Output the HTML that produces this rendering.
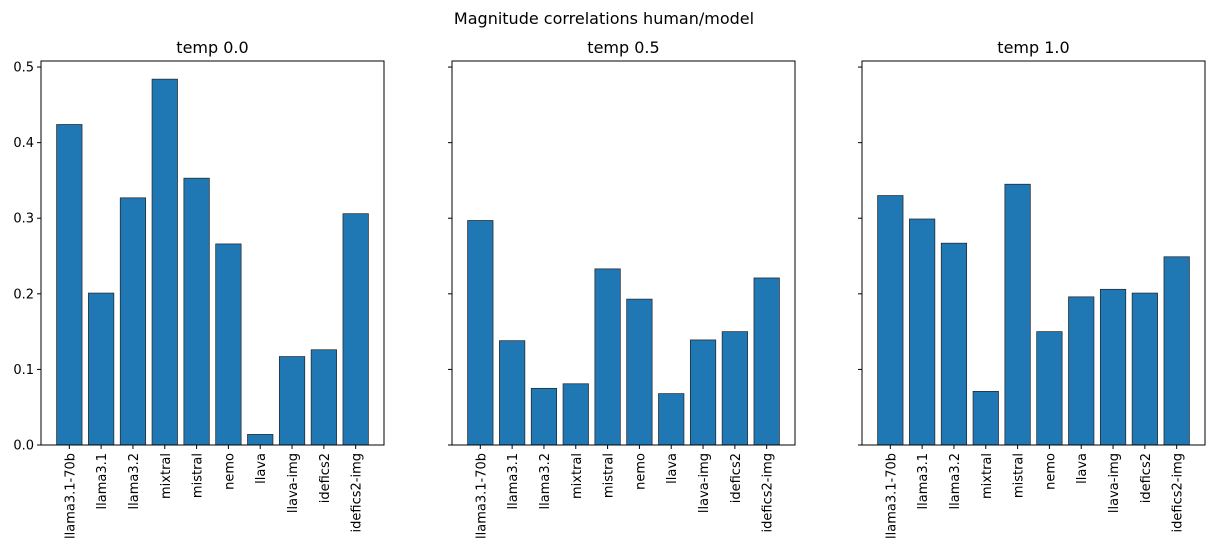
<!DOCTYPE html>
<html><head><meta charset="utf-8"><style>
body{margin:0;background:#fff;}
svg{display:block;font-family:"DejaVu Sans","Liberation Sans",sans-serif;}
</style></head><body>
<svg id="chart" width="1214" height="556">
<text x="604" y="24" font-size="16" text-anchor="middle">Magnitude correlations human/model</text>
</svg>
<script>
const categories=["llama3.1-70b","llama3.1","llama3.2","mixtral","mistral","nemo","llava","llava-img","idefics2","idefics2-img"];
const titles=["temp 0.0","temp 0.5","temp 1.0"];
const temp00=[0.424,0.201,0.327,0.484,0.353,0.266,0.014,0.117,0.126,0.306];
const temp05=[0.297,0.138,0.075,0.081,0.233,0.193,0.068,0.139,0.150,0.221];
const temp10=[0.330,0.299,0.267,0.071,0.345,0.150,0.196,0.206,0.201,0.249];
const yTicks=[0,0.1,0.2,0.3,0.4,0.5];
const yTickLabels=["0.0","0.1","0.2","0.3","0.4","0.5"];
const series=[temp00,temp05,temp10];
const NS="http://www.w3.org/2000/svg";
const svg=document.getElementById('chart');
const lefts=[41,452,862], W=343, plotTop=61, plotBottom=445;
const yMax=0.508;
function y(v){return plotBottom-(v/yMax)*(plotBottom-plotTop);}
function mk(t,a,p){const e=document.createElementNS(NS,t);for(const k in a)e.setAttribute(k,a[k]);(p||svg).appendChild(e);return e;}
const n=categories.length, xmin=-0.89, xmax=n-1+0.89;
series.forEach((vals,pi)=>{
  const L=lefts[pi];
  const g=mk('g',{});
  
  
  const x=i=>L+(i-xmin)/(xmax-xmin)*W;
  const bw=0.8*W/(xmax-xmin);
  vals.forEach((v,i)=>{
    const r=mk('rect',{x:x(i)-bw/2,y:y(v),width:bw,height:plotBottom-y(v),fill:'#1f77b4',stroke:'#222','stroke-width':0.7},g);
    
    
    mk('line',{x1:x(i),x2:x(i),y1:plotBottom,y2:plotBottom+4,stroke:'#000'},g);
    const t=mk('text',{x:0,y:0,'font-size':13,'text-anchor':'end',transform:`translate(${x(i)+5},${plotBottom+8}) rotate(-90)`},g);
    t.textContent=categories[i];
    
    
  });
  yTicks.forEach((tv,k)=>{
    mk('line',{x1:L-4,x2:L,y1:y(tv),y2:y(tv),stroke:'#000'},g);
    if(pi===0){
      const t=mk('text',{x:L-7,y:y(tv)+4.5,'font-size':13,'text-anchor':'end'},g);
      t.textContent=yTickLabels[k];
      
      
    }
  });
  const fr=mk('rect',{x:L,y:plotTop,width:W,height:plotBottom-plotTop,fill:'none',stroke:'#000','stroke-width':1},g);
  
  
  const tt=mk('text',{x:L+W/2,y:plotTop-8,'font-size':16,'text-anchor':'middle'},g);
  tt.textContent=titles[pi];
  
  
});
</script>
</body></html>
